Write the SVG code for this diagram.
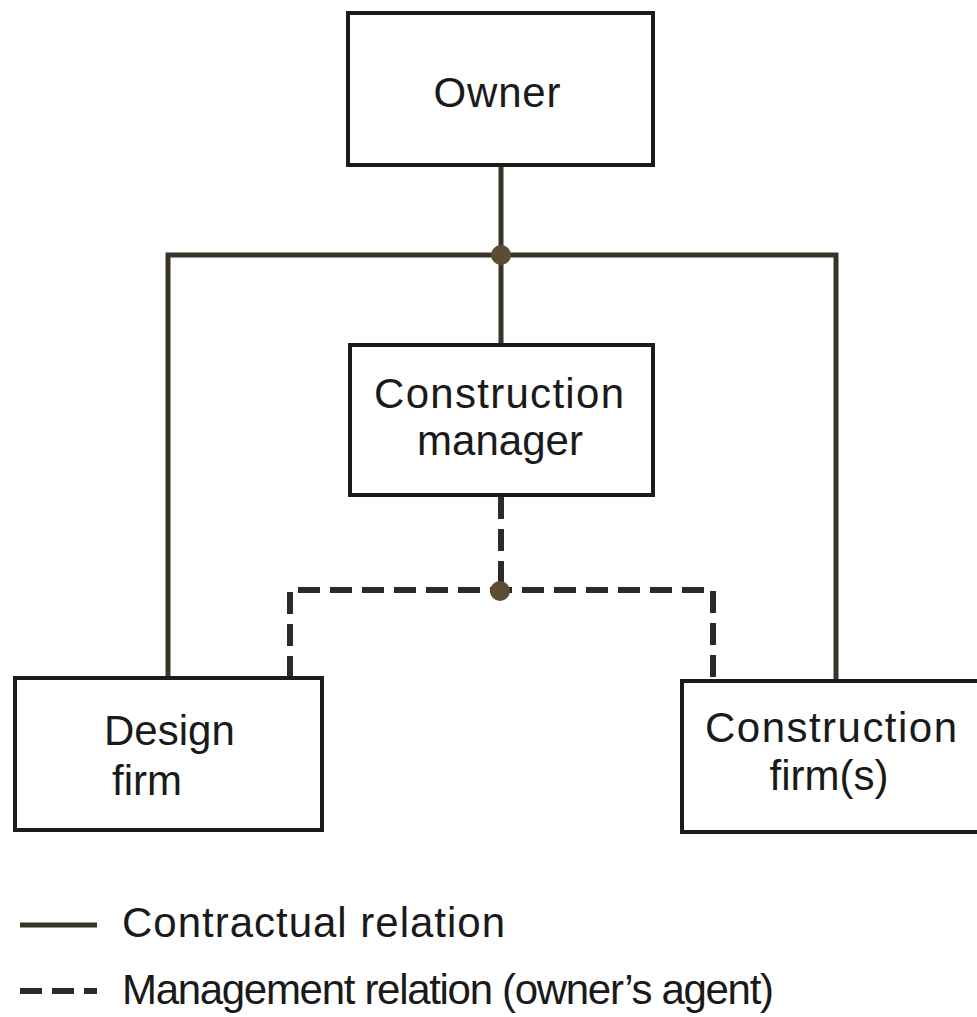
<svg xmlns="http://www.w3.org/2000/svg" width="977" height="1017" viewBox="0 0 977 1017">
  <style>
    .box { fill: #ffffff; stroke: #1e1c1a; stroke-width: 4; }
    .lbl { font-family: "Liberation Sans", Arial, sans-serif; font-size: 42px; fill: #1a1a1a; }
    .solid { fill: none; stroke: #3a3428; stroke-width: 5; }
    .dash { fill: none; stroke: #2c2a26; stroke-width: 6; stroke-dasharray: 22 10; }
    .dot { fill: #5b4c33; }
  </style>
  <rect width="977" height="1017" fill="#ffffff"/>

  <!-- connectors -->
  <g id="connectors">
    <path class="solid" d="M501 165 V345"/>
    <path class="solid" d="M168 678 V255 H836 V681"/>
    <path class="dash" d="M501 497 V590"/>
    <path class="dash" d="M290 678 V590 H713 V681"/>
    <circle class="dot" cx="501" cy="255" r="10"/>
    <circle class="dot" cx="500" cy="591" r="10"/>
  </g>

  <g id="owner">
    <rect class="box" x="348" y="13" width="305" height="152"/>
    <text class="lbl" x="497" y="107" text-anchor="middle" textLength="127">Owner</text>
  </g>

  <g id="construction-manager">
    <rect class="box" x="350" y="345" width="303" height="150"/>
    <text class="lbl" x="499" y="408" text-anchor="middle" textLength="250">Construction</text>
    <text class="lbl" x="500" y="455" text-anchor="middle">manager</text>
  </g>

  <g id="design-firm">
    <rect class="box" x="15" y="678" width="307" height="152"/>
    <text class="lbl" x="104" y="745">Design</text>
    <text class="lbl" x="112" y="795">firm</text>
  </g>

  <g id="construction-firms">
    <rect class="box" x="682" y="681" width="310" height="151"/>
    <text class="lbl" x="705" y="742" textLength="252">Construction</text>
    <text class="lbl" x="829" y="790" text-anchor="middle">firm(s)</text>
  </g>

  <g id="legend">
    <path class="solid" d="M20 925 H97"/>
    <text class="lbl" x="122" y="937" textLength="383">Contractual relation</text>
    <path class="dash" d="M20 991 H97" stroke-dasharray="18 10"/>
    <text class="lbl" x="122" y="1004" textLength="652">Management relation (owner’s agent)</text>
  </g>
</svg>
